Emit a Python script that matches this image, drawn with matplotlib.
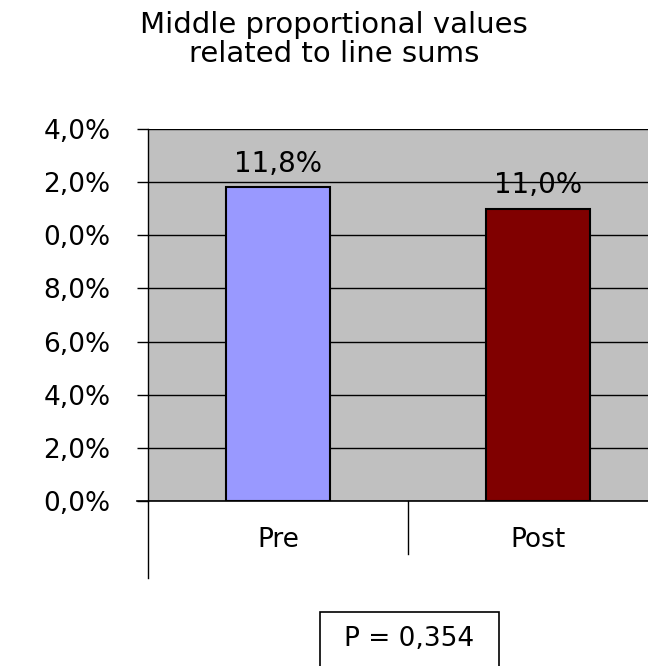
import matplotlib
matplotlib.use("Agg")
import matplotlib.pyplot as plt
from matplotlib.patches import Rectangle

# Mean proportional values, pre vs post
categories = ["Pre", "Post"]
values = [11.8, 11.0]
value_labels = ["11,8%", "11,0%"]
ytick_values = [0, 2, 4, 6, 8, 10, 12, 14]
ytick_labels = ["0,0%", "2,0%", "4,0%", "6,0%", "8,0%", "0,0%", "2,0%", "4,0%"]
bar_colors = ["#9999FF", "#800000"]
title_lines = ["Middle proportional values", "related to line sums"]
p_text = "P = 0,354"

plt.rcParams["font.family"] = ["DejaVu Sans"]

W, H = 648, 666
fig = plt.figure(figsize=(W / 100, H / 100), dpi=100)


def fy(py):
    """pixel row (from top) -> figure fraction"""
    return (H - py) / H


# plot area: x 148..668 px (runs past the right edge), y 129..501 px
ax = fig.add_axes([148 / W, fy(501), 520 / W, 372 / H])
ax.set_facecolor("#C0C0C0")
ax.set_xlim(0, 2)
ax.set_ylim(0, 14)

for y in ytick_values:
    ax.axhline(y, color="black", lw=1.0, zorder=1)

xpos = [0.5, 1.5]
ax.bar(xpos, values, width=0.4, color=bar_colors, edgecolor="black",
       linewidth=1.5, zorder=2)
for x, v, lab in zip(xpos, values, value_labels):
    ax.text(x, v + 0.6, lab, ha="center", va="baseline", fontsize=20, zorder=3)

ax.set_yticks(ytick_values)
ax.set_yticklabels(ytick_labels, fontsize=19)
ax.tick_params(axis="y", direction="out", length=8, width=1, pad=19)
ax.set_xticks([])
for s in ["top", "right", "bottom"]:
    ax.spines[s].set_visible(False)
ax.spines["left"].set_linewidth(1)

# category separator lines below the axis
ax.plot([0, 0], [0, -0.207 * 14], color="black", lw=1, clip_on=False)
ax.plot([1, 1], [0, -0.142 * 14], color="black", lw=1, clip_on=False)
ax.plot([-0.042, 2], [0, 0], color="black", lw=1.2, clip_on=False, zorder=4)
for x, c in zip(xpos, categories):
    ax.text(x, -46 * 14 / 372, c, ha="center", va="baseline", fontsize=19)

fig.text(334 / W, fy(33), title_lines[0], ha="center", va="baseline", fontsize=21)
fig.text(334 / W, fy(62), title_lines[1], ha="center", va="baseline", fontsize=21)

# P-value box at the bottom
fig.patches.append(Rectangle((320 / W, -0.02), 179 / W, fy(612) + 0.02,
                             transform=fig.transFigure, facecolor="white",
                             edgecolor="black", lw=1.2))
fig.text(409 / W, fy(646), p_text, ha="center", va="baseline", fontsize=19)

fig.savefig("out.png", dpi=100)
